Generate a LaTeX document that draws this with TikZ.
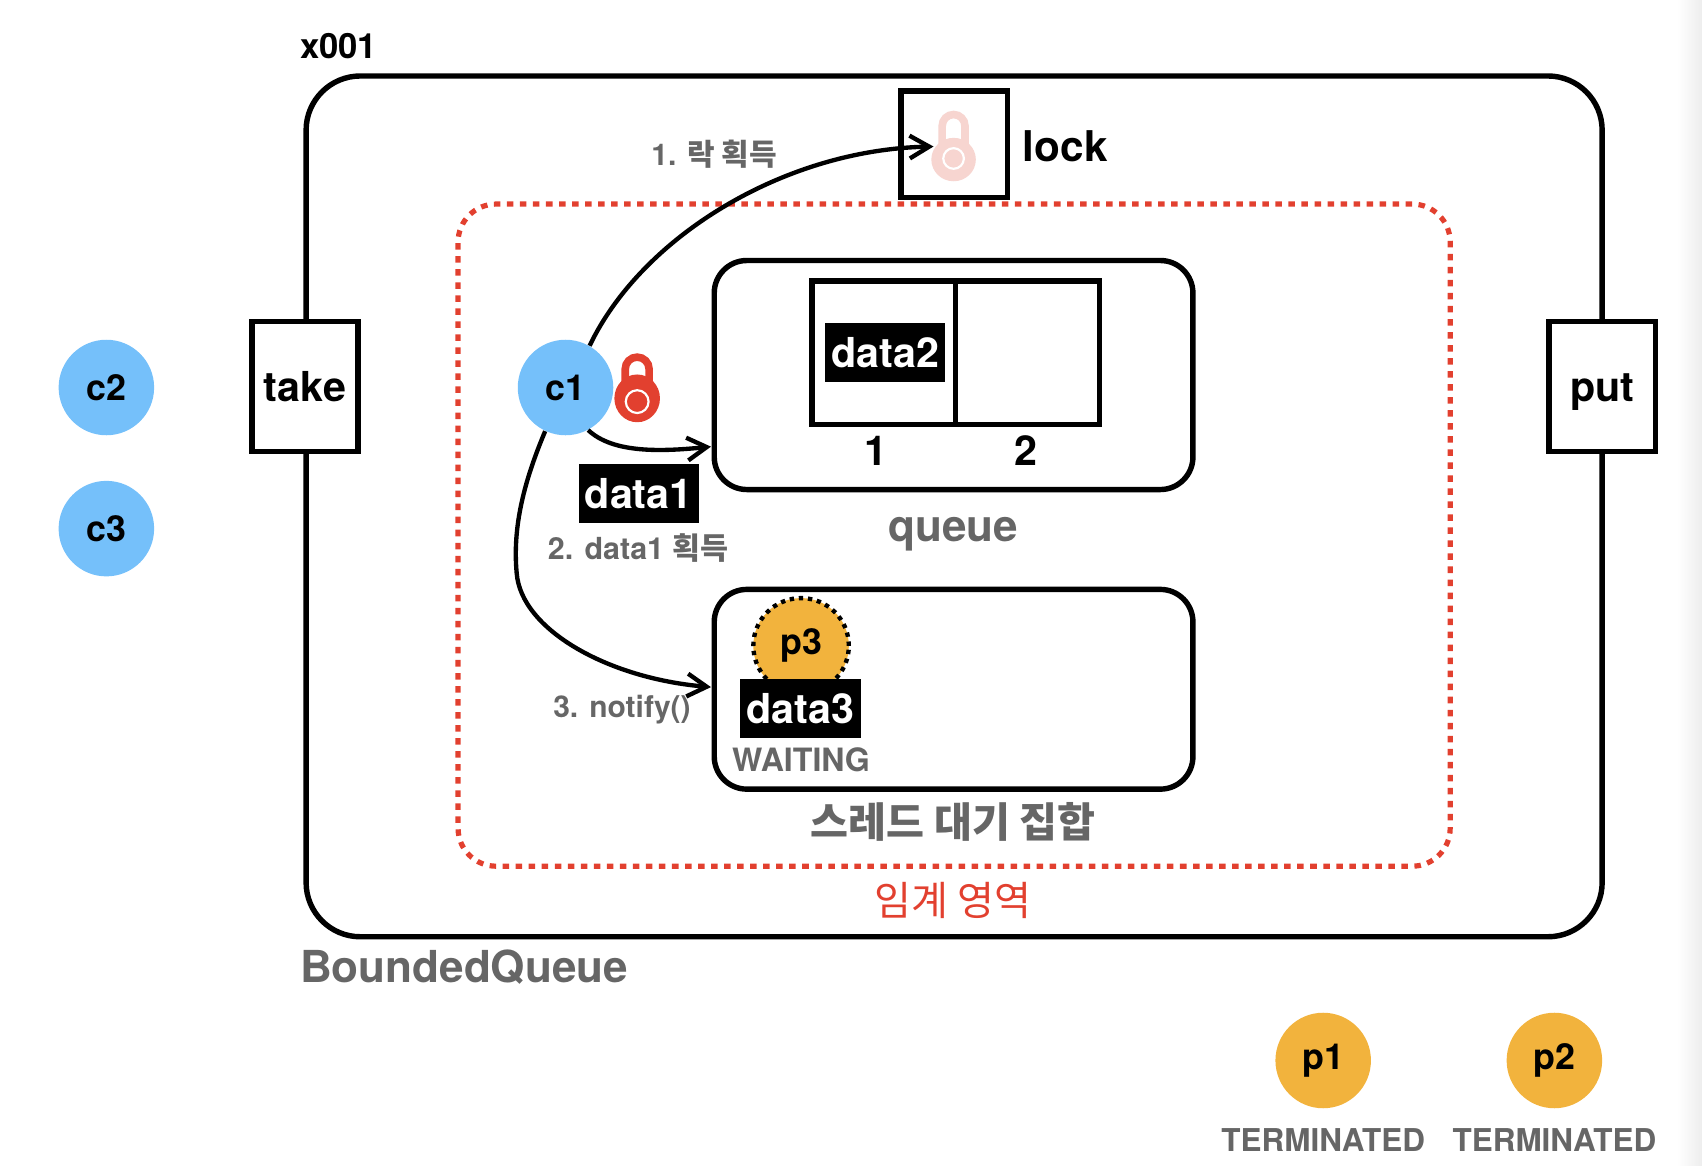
\documentclass[tikz,border=0pt]{standalone}
\usepackage{fontspec}
\setmainfont{TeX Gyre Heros}
\newfontfamily\kr{Noto Sans CJK KR}
\usetikzlibrary{arrows.meta}
\definecolor{cblue}{RGB}{117,192,250}
\definecolor{corange}{RGB}{242,179,61}
\definecolor{tgray}{RGB}{102,102,102}
\definecolor{cred}{RGB}{226,64,47}
\definecolor{lpink}{RGB}{247,213,208}
\newcommand{\fsz}[1]{\fontsize{#1}{#1}\selectfont}
\begin{document}
\begin{tikzpicture}[x=0.5pt,y=-0.5pt,
  box/.style={draw, line width=2.5pt, fill=white, inner sep=0pt, text height=13.5pt, text depth=0pt, font=\bfseries\fsz{19}},
  roundbox/.style={draw, line width=2.5pt, rounded corners=15pt, inner sep=0pt},
  thread/.style={circle, fill=#1, minimum size=44pt, inner sep=0pt, font=\bfseries\fsz{16.5}},
  datab/.style={fill=black, text=white, minimum width=55.5pt, minimum height=27pt, inner sep=0pt, font=\bfseries\fsz{19}},
  glabel/.style={text=tgray, inner sep=0pt},
  plain/.style={inner sep=0pt},
  flow/.style={line width=2pt, -{Straight Barb[length=9pt,width=10.5pt]}}
]
\useasboundingbox (0,0) rectangle (1568,1074);
\shade[left color=white, right color=black!7] (1545,0) rectangle (1568,1074);

% outer object
\node[draw, line width=2.5pt, rounded corners=25pt, minimum width=597pt, minimum height=396.5pt, inner sep=0pt] (outer) at (879,466.5) {};
\node[plain, anchor=west, font=\bfseries\fsz{16}] (addr) at (276,42) {x001};
\node[glabel, anchor=base west, font=\bfseries\fsz{20.3}] (bq) at (276,905) {BoundedQueue};

\node[box, minimum width=49pt, minimum height=60pt] (take) at (281,356) {take};
\node[box, minimum width=49pt, minimum height=60pt] (put) at (1476,356) {put};

% lock
\node[box, minimum width=49pt, minimum height=49pt] (lockbox) at (879,133) {};
\node[plain, anchor=west, font=\bfseries\fsz{19.5}] (locklbl) at (942,135) {lock};
\draw[lpink, line width=3.5pt] (868,142) -- (868,116) arc[start angle=180, end angle=360, radius=10.5] -- (889,142);
\fill[lpink] (878.5,147) ellipse[x radius=20.5, y radius=20];
\draw[white, line width=1pt] (878.5,146) circle[radius=9.5];

% critical section
\node[draw=cred, line width=2.4pt, dash pattern=on 3pt off 3pt, rounded corners=17.5pt, minimum width=457pt, minimum height=305pt, inner sep=0pt] (crit) at (879,493) {};
\node[plain, text=cred, font=\kr\fsz{18.5}] (critlbl) at (878,830) {임계 영역};

% queue
\node[roundbox, minimum width=220.5pt, minimum height=105.5pt] (queue) at (878.5,345.5) {};
\node[draw, line width=2.5pt, minimum width=66pt, minimum height=66pt, inner sep=0pt] (cell1) at (814,325) {};
\node[draw, line width=2.5pt, minimum width=66.5pt, minimum height=66pt, inner sep=0pt] (cell2) at (946.5,325) {};
\node[datab] (data2) at (815.5,325) {data2};
\node[plain, font=\bfseries\fsz{19}] (idx1) at (807,415) {1};
\node[plain, font=\bfseries\fsz{19}] (idx2) at (945,415) {2};
\node[glabel, anchor=base, font=\bfseries\fsz{20.3}] (qlbl) at (878,499) {queue};

% wait set
\node[roundbox, minimum width=220.5pt, minimum height=92pt] (waitset) at (878.5,635) {};
\node[thread=corange, draw=black, line width=2pt, dash pattern=on 2pt off 2.2pt] (p3) at (738,595) {p3};
\node[datab] (data3) at (737.5,653) {data3};
\node[glabel, font=\bfseries\fsz{14.8}] (waiting) at (738,700) {WAITING};
\node[glabel, font=\kr\bfseries\fsz{19}] (wslbl) at (878,757) {스레드 대기 집합};

% consumer c1
\node[thread=cblue] (c1) at (521,357) {c1};
\draw[cred, line width=3.5pt] (576,357) -- (576,340) arc[start angle=180, end angle=360, radius=11] -- (598,357);
\fill[cred] (587,367) ellipse[x radius=21, y radius=22];
\draw[white, line width=1pt] (587,370) circle[radius=10.5];
\node[datab] (data1) at (588.5,454.5) {data1};

% waiting threads outside
\node[thread=cblue] (c2) at (98,357) {c2};
\node[thread=cblue] (c3) at (98,487) {c3};
\node[thread=corange] (p1) at (1219,977) {p1};
\node[thread=corange] (p2) at (1432,977) {p2};
\node[glabel, font=\bfseries\fsz{14.5}] (t1) at (1219,1050) {TERMINATED};
\node[glabel, font=\bfseries\fsz{14.5}] (t2) at (1432,1050) {TERMINATED};

% flows
\coordinate (lockin) at (860,135);
\coordinate (qin) at (655,411.5);
\coordinate (win) at (655,633);
\draw[flow] (c1.60) .. controls (590,220) and (720,138) .. (lockin);
\draw[flow] (c1.-62) .. controls (565,418) and (610,416) .. (qin);
\draw[flow] (c1.-115) .. controls (483,443) and (472,485) .. (476,528) .. controls (480,580) and (560,625) .. (win);

\node[glabel, font=\bfseries\fsz{13.8}] (l1) at (658,142) {1. {\kr\bfseries 락 획득}};
\node[glabel, font=\bfseries\fsz{14}] (l2) at (588,505) {2. data1 {\kr\bfseries 획득}};
\node[glabel, font=\bfseries\fsz{13.8}] (l3) at (573,654) {3. notify()};
\end{tikzpicture}
\end{document}
